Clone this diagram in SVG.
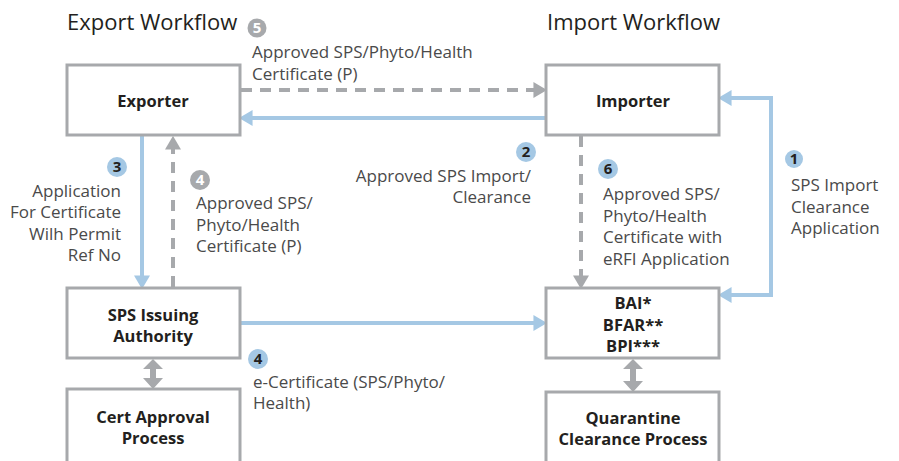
<svg xmlns="http://www.w3.org/2000/svg" width="899" height="461" viewBox="0 0 899 461">
<style>
.box{fill:#fff;stroke:#a7a9ac;stroke-width:3}
.nt{font-family:"Open Sans","Liberation Sans",sans-serif;font-weight:bold;font-size:16.5px;fill:#231f20;text-anchor:middle}
.lb{font-family:"Open Sans","Liberation Sans",sans-serif;font-size:17px;fill:#4a4a4a}
.hd{font-family:"Open Sans","Liberation Sans",sans-serif;font-size:22px;fill:#231f20}
.blue{fill:none;stroke:#a5c8e4;stroke-width:4}
.gdash{fill:none;stroke:#a7a9ac;stroke-width:4;stroke-dasharray:11 8}
.bb{fill:#a5c8e4}
.gb{fill:#a7a9ac}
.bn{font-family:"Open Sans","Liberation Sans",sans-serif;font-weight:bold;font-size:15px;text-anchor:middle;fill:#231f20}
.gn{font-family:"Open Sans","Liberation Sans",sans-serif;font-weight:bold;font-size:15px;text-anchor:middle;fill:#fff}
</style>
<defs>
<marker id="ab" markerUnits="userSpaceOnUse" markerWidth="14" markerHeight="16" viewBox="0 0 12 14" refX="4" refY="7" orient="auto-start-reverse"><path d="M0,0 L12,7 L0,14 z" fill="#a5c8e4"/></marker>
<marker id="ag" markerUnits="userSpaceOnUse" markerWidth="14" markerHeight="16" viewBox="0 0 12 14" refX="4" refY="7" orient="auto-start-reverse"><path d="M0,0 L12,7 L0,14 z" fill="#a7a9ac"/></marker>
</defs>
<rect width="899" height="461" fill="#fff"/>
<text class="hd" x="67" y="30">Export Workflow</text>
<text class="hd" x="547" y="30">Import Workflow</text>
<g id="connectors">
<path class="gdash" d="M241,90 H538" marker-end="url(#ag)"/>
<path class="blue" d="M545,118 H248" marker-end="url(#ab)"/>
<path class="blue" d="M142,136 V280" marker-end="url(#ab)"/>
<path class="gdash" d="M173,287 V145" marker-end="url(#ag)"/>
<path class="gdash" d="M581,136 V280" marker-end="url(#ag)"/>
<path class="blue" d="M727,98 H771 V295 H727" marker-start="url(#ab)" marker-end="url(#ab)"/>
<path class="blue" d="M241,323 H538" marker-end="url(#ab)"/>
<path class="gb" d="M153,359 L163,369 H156 V378 H163 L153,389 L143,378 H150 V369 H143 z"/>
<path class="gb" d="M633,359 L643,369 H636 V381 H643 L633,392 L623,381 H630 V369 H623 z"/>
</g>
<g id="exporter"><rect class="box" x="67" y="65" width="173" height="70"/><text class="nt" x="153" y="107">Exporter</text></g>
<g id="importer"><rect class="box" x="546" y="65" width="173" height="70"/><text class="nt" x="633" y="107">Importer</text></g>
<g id="sps"><rect class="box" x="67" y="288" width="173" height="70"/><text class="nt" x="153" y="321">SPS Issuing</text><text class="nt" x="153" y="342">Authority</text></g>
<g id="cert"><rect class="box" x="67" y="389" width="173" height="90"/><text class="nt" x="153" y="423">Cert Approval</text><text class="nt" x="153" y="444">Process</text></g>
<g id="bai"><rect class="box" x="546" y="288" width="173" height="70"/><text class="nt" x="633" y="309">BAI*</text><text class="nt" x="633" y="331">BFAR**</text><text class="nt" x="633" y="352">BPI***</text></g>
<g id="quarantine"><rect class="box" x="546" y="392" width="173" height="90"/><text class="nt" x="633" y="424">Quarantine</text><text class="nt" x="633" y="445">Clearance Process</text></g>
<g id="labels">
<circle class="gb" cx="257" cy="28" r="9.5"/><text class="gn" x="257" y="33">5</text>
<text class="lb" x="252" y="58">Approved SPS/Phyto/Health</text>
<text class="lb" x="252" y="80">Certificate (P)</text>
<circle class="bb" cx="526" cy="152" r="10"/><text class="bn" x="526" y="157">2</text>
<text class="lb" x="531" y="182" text-anchor="end">Approved SPS Import/</text>
<text class="lb" x="531" y="203" text-anchor="end">Clearance</text>
<circle class="bb" cx="117" cy="167" r="10"/><text class="bn" x="117" y="172">3</text>
<text class="lb" x="121" y="197" text-anchor="end">Application</text>
<text class="lb" x="121" y="218" text-anchor="end">For Certificate</text>
<text class="lb" x="121" y="240" text-anchor="end">Wilh Permit</text>
<text class="lb" x="121" y="261" text-anchor="end">Ref No</text>
<circle class="gb" cx="200" cy="180" r="10"/><text class="gn" x="200" y="185">4</text>
<text class="lb" x="196" y="209">Approved SPS/</text>
<text class="lb" x="196" y="231">Phyto/Health</text>
<text class="lb" x="196" y="252">Certificate (P)</text>
<circle class="bb" cx="608" cy="169" r="10"/><text class="bn" x="608" y="174">6</text>
<text class="lb" x="603" y="200">Approved SPS/</text>
<text class="lb" x="603" y="222">Phyto/Health</text>
<text class="lb" x="603" y="243">Certificate with</text>
<text class="lb" x="603" y="265">eRFI Application</text>
<circle class="bb" cx="794" cy="159" r="9"/><text class="bn" x="794" y="164">1</text>
<text class="lb" x="791" y="191">SPS Import</text>
<text class="lb" x="791" y="213">Clearance</text>
<text class="lb" x="791" y="234">Application</text>
<circle class="bb" cx="258" cy="359" r="10"/><text class="bn" x="258" y="364">4</text>
<text class="lb" x="253" y="388">e-Certificate (SPS/Phyto/</text>
<text class="lb" x="253" y="409">Health)</text>
</g>
</svg>
